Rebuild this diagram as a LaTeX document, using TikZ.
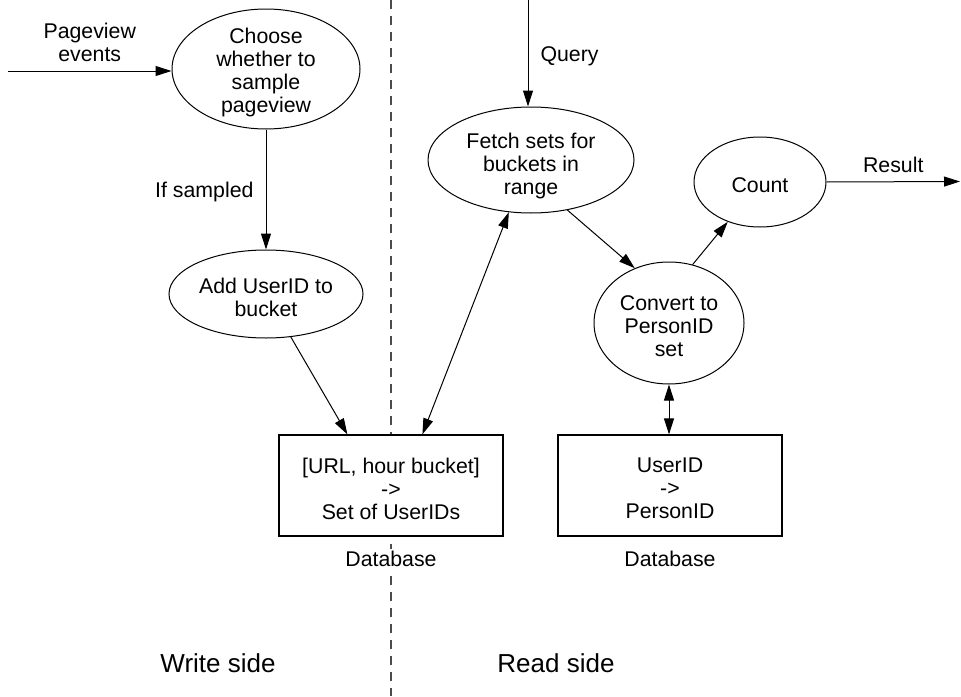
\documentclass[tikz,border=0pt]{standalone}
\usepackage{fontspec}
\setmainfont{Liberation Sans}
\usetikzlibrary{shapes.geometric,arrows.meta,calc}
\begin{document}
\begin{tikzpicture}[x=1pt,y=-1pt,
  every node/.style={font=\fontsize{21.3}{23}\selectfont, inner sep=0pt, align=center},
  every label/.style={yshift=-3pt},
  oval/.style={draw, ellipse, line width=1pt},
  store/.style={draw, rectangle, fill=white, line width=1.2pt,
                minimum width=224pt, minimum height=101pt},
  tip/.tip={Triangle[length=16pt,width=10pt]},
  flow/.style={line width=1pt, -tip},
  both/.style={line width=1pt, tip-tip},
  side/.style={font=\fontsize{26}{30}\selectfont},
  caption/.style={fill=white, inner ysep=2pt},
  divider/.style={dash pattern=on 9pt off 7pt, line width=1.2pt, draw=black!70}
]
\useasboundingbox (0,0) rectangle (961,696);

% write / read divider
\coordinate (dtop) at (391,0);
\coordinate (dbot) at (391,696);
\draw[divider] (dtop) -- (dbot);

% write side
\node[oval, minimum width=188pt, minimum height=120pt,
      label=center:{Choose\\whether to\\sample\\pageview}] (choose) at (266,69) {};
\node[oval, minimum width=194pt, minimum height=88pt,
      label=center:{Add UserID to\\bucket}] (add) at (266,294) {};
\node[store, label=center:{[URL, hour bucket]\\->\\Set of UserIDs}]
  (urlstore) at (391,485.5) {};
\node[caption] (db1) at (391,559) {Database};

% read side
\node[oval, minimum width=206pt, minimum height=106pt,
      label={[yshift=-3pt]center:{Fetch sets for\\buckets in\\range}}] (fetch) at (531,160) {};
\node[oval, minimum width=132pt, minimum height=90pt,
      label=center:{Count}] (count) at (760,182) {};
\node[oval, minimum width=150pt, minimum height=122pt,
      label=center:{Convert to\\PersonID\\set}] (convert) at (669,323) {};
\node[store, label=center:{UserID\\->\\PersonID}] (idstore) at (670,485.5) {};
\node[caption] (db2) at (670,559) {Database};

% free ends
\coordinate (pvin) at (8,71);
\coordinate (qin) at (528,0);
\coordinate (resout) at (960,181.5);

% connectors
\draw[flow] (pvin) -- (pvin -| choose.west)
  node[pos=0.5, above=9pt] (pvlabel) {Pageview\\events};
\draw[flow] (choose.south) -- (add.north)
  node[pos=0.52, left=12pt] (samplbl) {If sampled};
\draw[flow] (add.-60) -- ($(urlstore.north west)+(69,0)$);
\draw[flow] (qin) -- (qin |- fetch.north)
  node[pos=0.53, right=12pt] (qlabel) {Query};
\draw[both] ($(urlstore.north west)+(144,0)$) -- (fetch.-113);
\draw[flow] (fetch.-54) -- (convert.122);
\draw[flow] (convert.68) -- (count.-129);
\draw[flow] (count.east) -- (resout)
  node[pos=0.5, above=9pt] (reslabel) {Result};
\draw[both] (convert.south) -- (convert.south |- idstore.north);

% side captions
\node[side] (wside) at (218,663) {Write side};
\node[side] (rside) at (556,663) {Read side};
\end{tikzpicture}
\end{document}
